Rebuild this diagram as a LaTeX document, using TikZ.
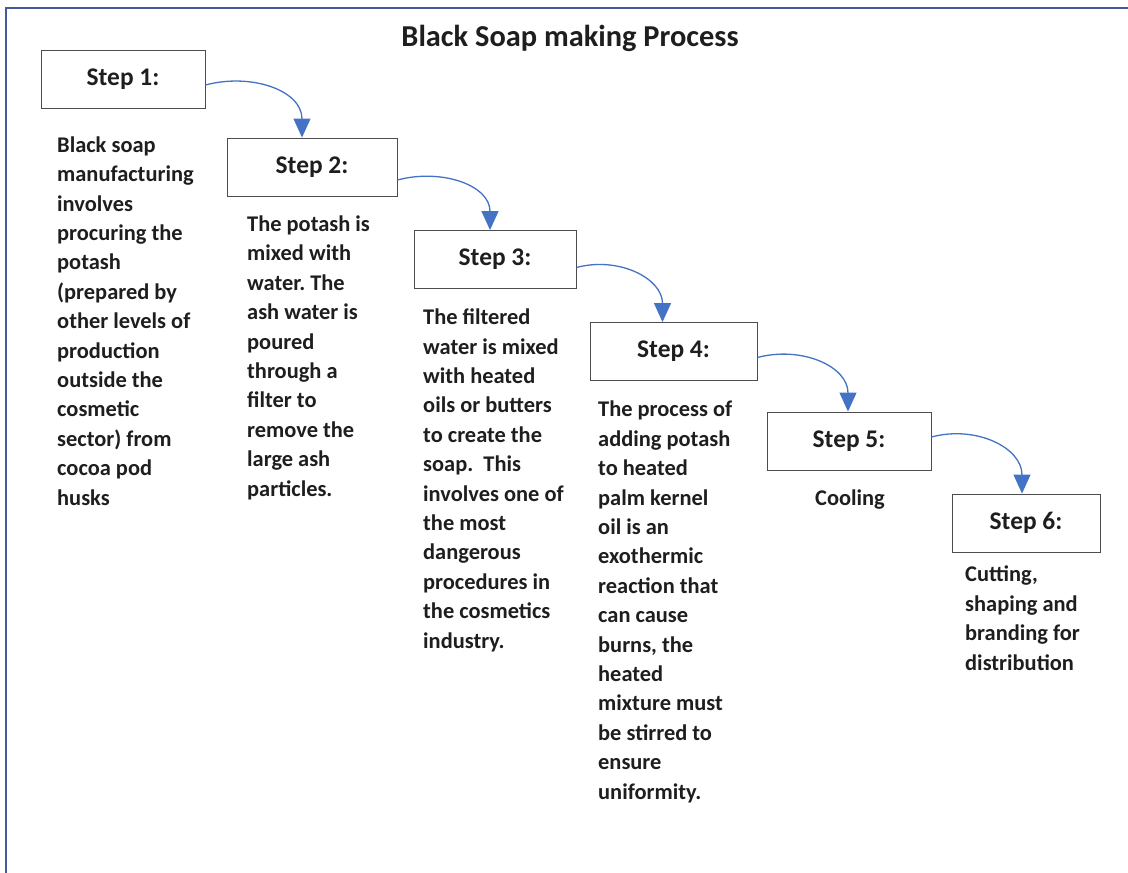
\documentclass[tikz,border=0pt]{standalone}
\usepackage{fontspec}
\setmainfont{Carlito}
\usetikzlibrary{arrows.meta}
\definecolor{frameblue}{RGB}{72,88,160}
\definecolor{arrblue}{RGB}{68,114,196}
\definecolor{txt}{RGB}{30,30,30}
\frenchspacing
\begin{document}
\begin{tikzpicture}[x=1bp,y=-1bp,
  stepbox/.style={draw=black!70,line width=0.9bp,minimum width=#1,minimum height=58bp,inner sep=0pt,
    font=\fontsize{25.5}{30}\selectfont\bfseries,text=txt},
  body/.style={anchor=base west,align=left,inner sep=0pt,font=\fontsize{22.5}{29.5}\selectfont\bfseries,text=txt},
  arr/.style={draw=arrblue,line width=1.3bp,-{Triangle[length=19bp,width=17bp,fill=arrblue]}}]
\useasboundingbox (0,0) rectangle (1128,873);
\fill[white] (0,0) rectangle (1128,873);
\draw[frameblue,line width=2.5bp] (6,880) -- (6,8) -- (1135,8);
\node[font=\fontsize{30.5}{36}\selectfont\bfseries,text=txt] (title) at (570,38) {Black Soap making Process};
\node[stepbox=164bp] (s1) at (123,79) {Step 1:};
\node[stepbox=170bp] (s2) at (312,167) {Step 2:};
\node[stepbox=162bp] (s3) at (495,259.5) {Step 3:};
\node[stepbox=167bp] (s4) at (673.5,351.5) {Step 4:};
\node[stepbox=164bp] (s5) at (849,441) {Step 5:};
\node[stepbox=148bp] (s6) at (1026,523) {Step 6:};
\node[body] (t1) at (57,505) {Black soap\\manufacturing\\involves\\procuring the\\potash\\(prepared by\\other levels of\\production\\outside the\\cosmetic\\sector) from\\cocoa pod\\husks};
\node[body] (t2) at (247,496) {The potash is\\mixed with\\water. The\\ash water is\\poured\\through a\\filter to\\remove the\\large ash\\particles.};
\node[body] (t3) at (423,648) {The filtered\\water is mixed\\with heated\\oils or butters\\to create the\\soap.\ \ This\\involves one of\\the most\\dangerous\\procedures in\\the cosmetics\\industry.};
\node[body] (t4) at (598,799) {The process of\\adding potash\\to heated\\palm kernel\\oil is an\\exothermic\\reaction that\\can cause\\burns, the\\heated\\mixture must\\be stirred to\\ensure\\uniformity.};
\node[body,anchor=base] (t5) at (850,505) {Cooling};
\node[body] (t6) at (965,670) {Cutting,\\shaping and\\branding for\\distribution};
\draw[arr] ([yshift=-6bp]s1.east) to[out=15,in=90,looseness=1.1] ([xshift=-10bp]s2.north);
\draw[arr] ([yshift=-13bp]s2.east) to[out=15,in=90,looseness=1.1] ([xshift=-5bp]s3.north);
\draw[arr] ([yshift=-8bp]s3.east) to[out=15,in=90,looseness=1.1] ([xshift=-11bp]s4.north);
\draw[arr] ([yshift=-6bp]s4.east) to[out=15,in=90,looseness=1.1] ([xshift=-1bp]s5.north);
\draw[arr] ([yshift=4bp]s5.east) to[out=15,in=90,looseness=1.1] ([xshift=-4bp]s6.north);
\end{tikzpicture}
\end{document}
